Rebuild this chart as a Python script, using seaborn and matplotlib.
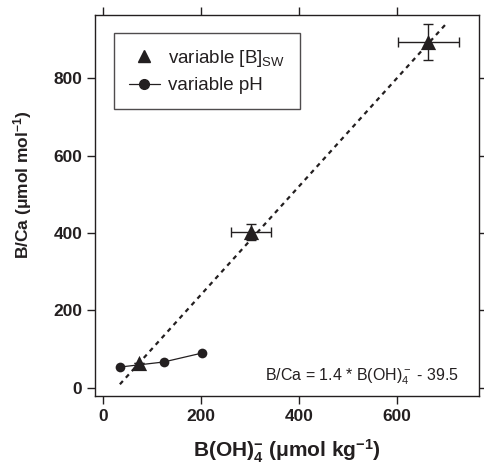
import matplotlib
matplotlib.use("Agg")
import matplotlib.pyplot as plt
import seaborn as sns
import pandas as pd
from matplotlib.lines import Line2D

# variable [B]sw experiments (triangles) with error bars
bsw_x = [73, 302, 663]
bsw_y = [65, 403, 893]
bsw_xerr = [0, 41, 62]
bsw_yerr = [0, 21, 46]

# variable pH experiments (circles joined by line)
ph_x = [35, 124, 202]
ph_y = [54, 67, 90]

# regression line: B/Ca = 1.4 * B(OH)4- - 39.5
fit_slope = 1.4
fit_icept = -39.5
fit_x = [35, 698]

xticks = [0, 200, 400, 600]
yticks = [0, 200, 400, 600, 800]

sns.set_style("ticks")
plt.rcParams["font.family"] = ["Liberation Sans", "DejaVu Sans"]
plt.rcParams["mathtext.fontset"] = "custom"
plt.rcParams["mathtext.rm"] = "Liberation Sans"
plt.rcParams["mathtext.bf"] = "Liberation Sans:bold"
plt.rcParams["mathtext.it"] = "Liberation Sans:italic"

ink = "#231f20"

fig = plt.figure(figsize=(4.84, 4.66), dpi=100)
ax = fig.add_axes([0.196, 0.150, 0.794, 0.818])

fit_df = pd.DataFrame({"x": fit_x, "y": [fit_slope * v + fit_icept for v in fit_x]})
sns.lineplot(data=fit_df, x="x", y="y", ax=ax, color=ink, lw=1.6,
             linestyle=(0, (2, 2)), zorder=2)

ax.errorbar(bsw_x, bsw_y, xerr=bsw_xerr, yerr=bsw_yerr, fmt="none",
            ecolor=ink, elinewidth=1.0, capsize=3.5, capthick=1.0, zorder=3)

ph_df = pd.DataFrame({"x": ph_x, "y": ph_y})
sns.lineplot(data=ph_df, x="x", y="y", ax=ax, color=ink, lw=0.9,
             marker="o", markersize=7, markeredgewidth=0, zorder=4)

bsw_df = pd.DataFrame({"x": bsw_x, "y": bsw_y})
sns.scatterplot(data=bsw_df, x="x", y="y", ax=ax, marker="^", s=120,
                color=ink, edgecolor=ink, linewidth=0, zorder=5)

ax.set_xlim(-16, 767)
ax.set_ylim(-21, 963)
ax.set_xticks(xticks)
ax.set_yticks(yticks)
ax.tick_params(direction="out", length=6, width=1, color=ink,
               top=True, right=True, labeltop=False, labelright=False,
               labelsize=12.5, pad=3)
for lab in ax.get_xticklabels() + ax.get_yticklabels():
    lab.set_fontweight("bold")
    lab.set_color(ink)
for sp in ax.spines.values():
    sp.set_visible(True)
    sp.set_color(ink)
    sp.set_linewidth(1.0)

ax.set_xlabel(r"B(OH)$_\mathbf{4}^\mathbf{-}$ (μmol kg$^\mathbf{-1}$)",
              fontsize=15, fontweight="bold", color=ink)
ax.xaxis.set_label_coords(0.5, -0.11)
ax.set_ylabel(r"B/Ca (μmol mol$^\mathbf{-1}$)",
              fontsize=12.5, fontweight="bold", color=ink)
ax.yaxis.set_label_coords(-0.158, 0.555)

ax.text(0.948, 0.052, r"B/Ca = 1.4 * B(OH)$_4^-$ - 39.5", transform=ax.transAxes,
        ha="right", va="center", fontsize=11.5, color=ink)

handles = [
    Line2D([], [], marker="^", linestyle="none", color=ink, markersize=8),
    Line2D([], [], marker="o", linestyle="-", color=ink, lw=0.9, markersize=7),
]
leg = ax.legend(handles, [r"variable [B]$_\mathrm{SW}$", "variable pH"],
                loc="upper left", bbox_to_anchor=(0.049, 0.953), frameon=True,
                fancybox=False, edgecolor=ink, fontsize=13.5, borderpad=0.8,
                borderaxespad=0, handlelength=1.65, handletextpad=0.45,
                labelspacing=0.45)
leg.get_frame().set_linewidth(1.0)
for t in leg.get_texts():
    t.set_color(ink)

fig.savefig("out.png", dpi=100)
